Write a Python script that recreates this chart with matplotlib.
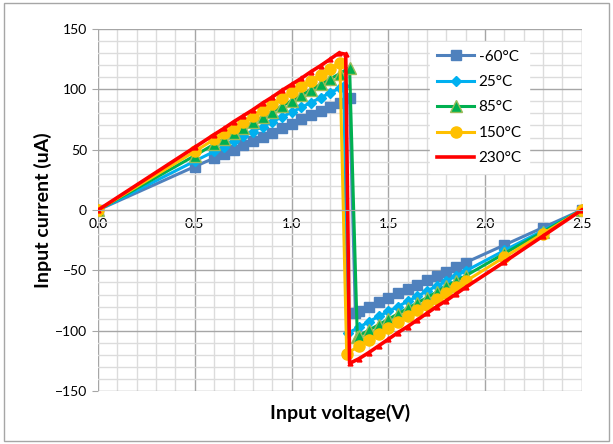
import numpy as np
import matplotlib
matplotlib.use("Agg")
import matplotlib.pyplot as plt
from matplotlib.ticker import MultipleLocator
from matplotlib.patches import Rectangle
from matplotlib.lines import Line2D

plt.rcParams['font.family'] = ['Lato', 'DejaVu Sans']

# Data: input voltage (V) vs input current (uA)
v_m60 = [0, 0.5, 0.6, 0.65, 0.7, 0.75, 0.8, 0.85, 0.9, 0.95, 1.0, 1.05, 1.1, 1.15, 1.2, 1.25, 1.3,
         1.33, 1.35, 1.4, 1.45, 1.5, 1.55, 1.6, 1.65, 1.7, 1.75, 1.8, 1.85, 1.9, 2.1, 2.3, 2.5]
i_m60 = [0, 36, 43, 46.5, 50, 53.5, 57, 60.5, 64, 67.5, 71, 75, 78.5, 82, 85.5, 89, 93,
         -85, -83.5, -80, -76, -72.5, -69, -65.5, -62, -58, -54.5, -51, -47, -43.5, -29, -14.5, 0]

v_25 = [0, 0.5, 0.6, 0.65, 0.7, 0.75, 0.8, 0.85, 0.9, 0.95, 1.0, 1.05, 1.1, 1.15, 1.2, 1.25, 1.27,
        1.29, 1.35, 1.4, 1.45, 1.5, 1.55, 1.6, 1.65, 1.7, 1.75, 1.8, 1.85, 1.9, 2.1, 2.3, 2.5]
i_25 = [0, 40.5, 48.5, 52.5, 57, 61, 65, 69, 73, 77, 81, 85, 89, 93, 97, 101, 103,
        -102, -97, -92.5, -88, -84, -80, -75.5, -71.5, -67, -63, -59, -54.5, -50.5, -33.5, -17, 0]

v_85 = [0, 0.5, 0.6, 0.65, 0.7, 0.75, 0.8, 0.85, 0.9, 0.95, 1.0, 1.05, 1.1, 1.15, 1.2, 1.25, 1.3,
        1.34, 1.35, 1.4, 1.45, 1.5, 1.55, 1.6, 1.65, 1.7, 1.75, 1.8, 1.85, 1.9, 2.1, 2.3, 2.5]
i_85 = [0, 45, 54.5, 59, 63.5, 68, 72.5, 77, 81.5, 86, 90.5, 95, 99.5, 104, 108.5, 113, 118,
        -105, -104, -99.5, -95, -90.5, -86, -81.5, -77, -72.5, -68, -63, -59, -54.5, -36, -18, 0]

v_150 = [0, 0.5, 0.6, 0.65, 0.7, 0.75, 0.8, 0.85, 0.9, 0.95, 1.0, 1.05, 1.1, 1.15, 1.2, 1.25,
         1.285, 1.35, 1.4, 1.45, 1.5, 1.55, 1.6, 1.65, 1.7, 1.75, 1.8, 1.85, 1.9, 2.1, 2.3, 2.5]
i_150 = [0, 48.5, 58.5, 63.5, 68, 73, 78, 83, 87.5, 92.5, 97.5, 102.5, 107, 112, 117, 122,
         -119, -112.5, -108, -103, -98, -93, -88, -83, -78.5, -73.5, -68.5, -63.5, -59, -39, -19.5, 0]

v_230 = [0, 0.5, 0.6, 0.65, 0.7, 0.75, 0.8, 0.85, 0.9, 0.95, 1.0, 1.05, 1.1, 1.15, 1.2, 1.245, 1.28,
         1.30, 1.35, 1.4, 1.45, 1.5, 1.55, 1.6, 1.65, 1.7, 1.75, 1.8, 1.85, 1.9, 2.1, 2.3, 2.5]
i_230 = [0, 52, 62.5, 67.5, 73, 78, 83, 88.5, 93.5, 99, 104, 109, 114.5, 119.5, 125, 130, 129,
         -127, -123, -118, -112.5, -107, -101.5, -96.5, -91, -85.5, -80, -75, -69.5, -64, -43, -21.5, 0]

labels = ['-60°C', '25°C', '85°C', '150°C', '230°C']

fig = plt.figure(figsize=(6.13, 4.44), dpi=100)
ax = fig.add_axes([0.160, 0.119, 0.789, 0.816])

# chart border
fig.patches.append(Rectangle((0.006, 0.006), 0.988, 0.988, transform=fig.transFigure,
                             fill=False, edgecolor='#A6A6A6', linewidth=1))

l1, = ax.plot(v_m60, i_m60, color='#4F81BD', marker='s', markersize=7, linewidth=2.2)
l2, = ax.plot(v_25, i_25, color='#00B0F0', marker='D', markersize=5, linewidth=2.2)
l3, = ax.plot(v_85, i_85, color='#00B050', marker='^', markersize=8, markeredgecolor='#9BBB59',
              linewidth=2.2)
l4, = ax.plot(v_150, i_150, color='#FFC000', marker='o', markersize=8, linewidth=2.2)
ax.plot(v_230, i_230, color='#FF0000', marker='^', markersize=3.5, linewidth=2.6)
l5 = Line2D([], [], color='#FF0000', linewidth=2.6)

ax.set_xlim(0, 2.5)
ax.set_ylim(-150, 150)
ax.xaxis.set_major_locator(MultipleLocator(0.5))
ax.xaxis.set_minor_locator(MultipleLocator(0.1))
ax.yaxis.set_major_locator(MultipleLocator(50))
ax.yaxis.set_minor_locator(MultipleLocator(10))
ax.xaxis.set_major_formatter(matplotlib.ticker.FormatStrFormatter('%.1f'))

ax.grid(which='major', color='#A6A6A6', linewidth=1)
ax.grid(which='minor', color='#DCDCDC', linewidth=1)
ax.set_axisbelow(True)

for s in ['top', 'right']:
    ax.spines[s].set_visible(False)
ax.spines['left'].set_visible(False)
ax.spines['bottom'].set_position(('data', 0))
ax.spines['bottom'].set_color('#A6A6A6')
ax.tick_params(axis='x', which='both', length=0, labelsize=10, pad=6)
ax.tick_params(axis='y', which='major', length=4, color='#A6A6A6', labelsize=10, pad=4)
ax.tick_params(axis='y', which='minor', length=0)

ax.set_xlabel('Input voltage(V)', fontsize=14, fontweight='bold')
ax.xaxis.set_label_coords(0.5, -0.035)
ax.set_ylabel('Input current (uA)', fontsize=14, fontweight='bold')
ax.yaxis.set_label_coords(-0.095, 0.5)

ax.legend([l1, l2, l3, l4, l5], labels, loc='upper left', bbox_to_anchor=(0.67, 0.985),
          fontsize=11, frameon=True, fancybox=False, edgecolor='white', framealpha=1,
          handlelength=2.4, labelspacing=0.75, handletextpad=0.3, borderpad=0.5)

fig.savefig('out.png', dpi=100)
